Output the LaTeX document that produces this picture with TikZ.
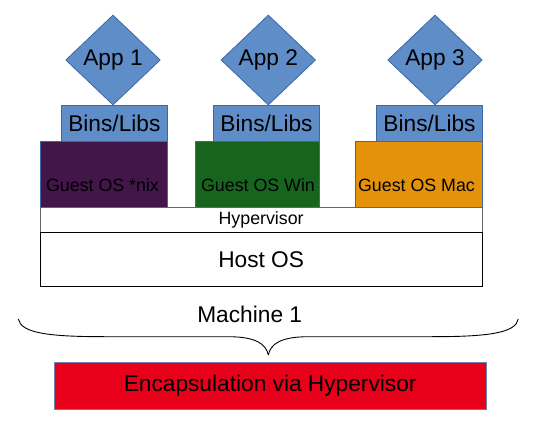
\documentclass[tikz,border=0pt]{standalone}
\usepackage{fontspec}
\setmainfont{Liberation Sans}
\usetikzlibrary{shapes.geometric}
\definecolor{blueF}{HTML}{5F8DC8}
\definecolor{blueD}{HTML}{3C68A8}
\definecolor{osPurple}{HTML}{43164A}
\definecolor{osGreen}{HTML}{17641F}
\definecolor{osOrange}{HTML}{E4920A}
\definecolor{encRed}{HTML}{E8001A}
\definecolor{encEdge}{HTML}{6F82B0}
\tikzset{
  bigtxt/.style={font=\fontsize{22.7bp}{26bp}\selectfont},
  smalltxt/.style={font=\fontsize{17.8bp}{20bp}\selectfont},
  appbox/.style={diamond, draw=blueD, fill=blueF, line width=0.8bp, inner sep=0pt,
     minimum width=94.6bp, minimum height=90bp, bigtxt},
  libbox/.style={rectangle, draw=blueD, fill=blueF, line width=0.8bp, inner sep=0pt,
     minimum width=105.6bp, minimum height=35.3bp, bigtxt},
  guestbox/.style={rectangle, draw=blueD, line width=0.8bp, inner sep=0pt, minimum height=66bp},
  layerbox/.style={rectangle, draw=black, fill=white, line width=0.9bp, inner sep=0pt, minimum width=442.3bp},
  bracestyle/.style={draw=black, line width=0.9bp},
}
\begin{document}
\begin{tikzpicture}[x=1bp,y=-1bp]
\useasboundingbox (0,0) rectangle (543,435);
% apps
\node[appbox] (a1) at (113,60) {App 1};
\node[appbox] (a2) at (268.3,60) {App 2};
\node[appbox] (a3) at (435,60) {App 3};
% bins/libs
\node[libbox] (l1) at (114.35,123.35) {Bins/Libs};
\node[libbox] (l2) at (266.5,123.35) {Bins/Libs};
\node[libbox] (l3) at (429.5,123.35) {Bins/Libs};
% guest OS boxes
\node[guestbox, fill=osPurple, minimum width=127bp] (g1) at (103.5,174) {};
\node[guestbox, fill=osGreen, minimum width=123.6bp] (g2) at (257.5,174) {};
\node[guestbox, fill=osOrange, minimum width=127bp] (g3) at (418.8,174) {};
\node[smalltxt] (g1t) at (102.5,185.5) {Guest OS *nix};
\node[smalltxt] (g2t) at (258,185.5) {Guest OS Win};
\node[smalltxt] (g3t) at (416.5,185.5) {Guest OS Mac};
% hypervisor and host
\node[layerbox, draw=black!60, minimum height=25.5bp, smalltxt] (hv) at (261.15,219.75) {Hypervisor};
\node[layerbox, minimum height=54.2bp, bigtxt] (host) at (261.15,259.6) {Host OS};
% machine label and brace
\node[bigtxt] (m1) at (249.7,314.5) {Machine 1};
\coordinate (bl) at (18.3,319);
\coordinate (br) at (518.3,319);
\coordinate (bt) at (268.3,355);
\draw[bracestyle] (bl) .. controls (21,333) and (48,336.7) .. (105,336.7) -- (228,336.7)
   .. controls (256,336.7) and (266,344) .. (bt);
\draw[bracestyle] (br) .. controls (515.6,333) and (488.6,336.7) .. (431.6,336.7) -- (308.6,336.7)
   .. controls (280.6,336.7) and (270.6,344) .. (bt);
% encapsulation
\node[rectangle, draw=encEdge, fill=encRed, line width=0.9bp, inner sep=0pt,
  minimum width=431.7bp, minimum height=47.4bp, bigtxt] (enc) at (270.15,386) {Encapsulation via Hypervisor};
\end{tikzpicture}
\end{document}
